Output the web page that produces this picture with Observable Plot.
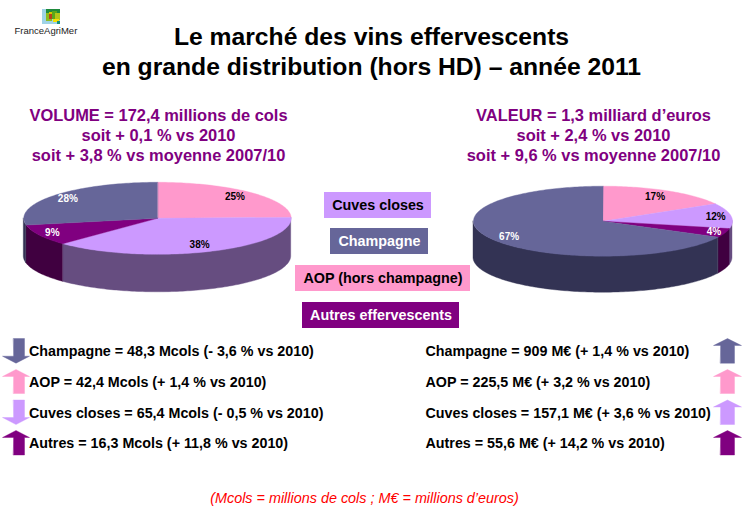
<!DOCTYPE html>
<html lang="fr"><head><meta charset="utf-8">
<script src="https://cdn.jsdelivr.net/npm/d3@7"></script>
<script src="https://cdn.jsdelivr.net/npm/@observablehq/plot@0.6"></script>
<style>html,body{margin:0;padding:0;background:#fff}svg{display:block}</style>
</head><body><div id="chart"></div>
<script>
// ---- data ----
const sliceOrder = ["AOP", "Cuves closes", "Autres", "Champagne"];
const volumeMcols = [42.4, 65.4, 16.3, 48.3];
const volumeLabels = ["25%", "38%", "9%", "28%"];
const valueMeuros = [225.5, 157.1, 55.6, 909];
const valueLabels = ["17%", "12%", "4%", "67%"];
const topColors = {"Champagne":"#666699","AOP":"#FF99CC","Cuves closes":"#CC99FF","Autres":"#800080"};
const sideColors = {"Champagne":"#333354","AOP":"#804D66","Cuves closes":"#664D80","Autres":"#400040"};
const labelColors = {"Champagne":"#fff","AOP":"#000","Cuves closes":"#000","Autres":"#fff"};
const titleLines = ["Le marché des vins effervescents","en grande distribution (hors HD) – année 2011"];
const volumeLines = ["VOLUME = 172,4 millions de cols","soit + 0,1 % vs 2010","soit + 3,8 % vs moyenne 2007/10"];
const valueLines = ["VALEUR = 1,3 milliard d’euros","soit + 2,4 % vs 2010","soit + 9,6 % vs moyenne 2007/10"];
const legendNames = ["Cuves closes","Champagne","AOP (hors champagne)","Autres effervescents"];
const legendKeys = ["Cuves closes","Champagne","AOP","Autres"];
const volumeRows = ["Champagne = 48,3 Mcols (- 3,6 % vs 2010)","AOP = 42,4 Mcols (+ 1,4 % vs 2010)","Cuves closes = 65,4 Mcols (- 0,5 % vs 2010)","Autres = 16,3 Mcols (+ 11,8 % vs 2010)"];
const valueRows = ["Champagne = 909 M€ (+ 1,4 % vs 2010)","AOP = 225,5 M€ (+ 3,2 % vs 2010)","Cuves closes = 157,1 M€ (+ 3,6 % vs 2010)","Autres = 55,6 M€ (+ 14,2 % vs 2010)"];
const rowKeys = ["Champagne","AOP","Cuves closes","Autres"];
const volumeTrend = [-1, 1, -1, 1];
const valueTrend = [1, 1, 1, 1];
const footnote = "(Mcols = millions de cols ; M€ = millions d’euros)";
const logoName = "FranceAgriMer";

// ---- layout ----
const FONT = "Liberation Sans, Arial, sans-serif";
const volumePie = {cx:157, cy:217.8, rx:133.7, ry:36, depth:38, labelR:[0.83,0.8,0.89,0.87]};
const valuePie  = {cx:602.5, cy:220.7, rx:129.5, ry:35, depth:36.5, labelR:[0.8,0.88,0.91,0.85]};

function slices(names, values, labels, pie) {
  const total = d3.sum(values); let acc = 0;
  return names.map((n, i) => {
    const a0 = acc / total * 2 * Math.PI; acc += values[i];
    const a1 = acc / total * 2 * Math.PI;
    return {name:n, label:labels[i], a0, a1, pie, f:pie.labelR[i]};
  });
}
const px = (p, t) => p.cx + p.rx * Math.sin(t);
const py = (p, t) => p.cy - p.ry * Math.cos(t);
function arc(a0, a1) {
  const n = Math.max(2, Math.ceil((a1 - a0) / 0.02));
  return d3.range(n + 1).map(i => a0 + (a1 - a0) * i / n);
}
const allSlices = [...slices(sliceOrder, volumeMcols, volumeLabels, volumePie), ...slices(sliceOrder, valueMeuros, valueLabels, valuePie)];
const topPts = [], sidePts = [], pieLabels = [];
allSlices.forEach((s, i) => {
  const p = s.pie;
  topPts.push({id:i, x:p.cx, y:p.cy, c:topColors[s.name]});
  arc(s.a0, s.a1).forEach(t => topPts.push({id:i, x:px(p,t), y:py(p,t), c:topColors[s.name]}));
  const f0 = Math.max(s.a0, Math.PI/2), f1 = Math.min(s.a1, 3*Math.PI/2);
  if (f1 > f0) arc(f0, f1).forEach(t => sidePts.push({id:i, x:px(p,t), y1:py(p,t), y2:py(p,t)+p.depth, c:sideColors[s.name]}));
  const m = (s.a0 + s.a1)/2;
  pieLabels.push({x:p.cx + s.f*p.rx*Math.sin(m), y:p.cy - s.f*p.ry*Math.cos(m), t:s.label, c:labelColors[s.name]});
});

// arrows
const rowY = [[338,362.7],[369,393],[399.5,424],[430,454.5]];
const arrowPts = [];
function arrow(id, x0, x1, s0, s1, yr, dir, color) {
  const h = 7;
  const [a, b] = yr;
  const tip = dir > 0 ? a : b, base = dir > 0 ? b : a, neck = tip + (dir > 0 ? h : -h), mid = (x0+x1)/2;
  [[s0,base],[s1,base],[s1,neck],[x1,neck],[mid,tip],[x0,neck],[s0,neck]].forEach(([x,y]) => arrowPts.push({id, x, y, c:color}));
}
rowKeys.forEach((k,i) => {
  arrow("l"+i, 2, 29, 13, 24, rowY[i], volumeTrend[i], topColors[k]);
  arrow("r"+i, 713, 741, 720, 734, rowY[i], valueTrend[i], topColors[k]);
});

// legend
const legendBoxes = [[324,431,192,218],[330,428,228,254],[295,470,265,291],[302,459,302,328]]
  .map(([x1,x2,y1,y2],i) => ({x1,x2,y1,y2,name:legendNames[i],c:topColors[legendKeys[i]],tc:labelColors[legendKeys[i]]}));

// logo tiles
const logoTiles = [
  [42,60,9,24,"#9fd3e6"],[46,60,9,13,"#1f8a3c"],[46,52,13,21,"#8dbb1f"],[49,53,12,19,"#d8c400"],
  [52,57,11,19,"#5aa81a"],[55,60,13,20,"#b3c71a"],[49,52,14,19,"#b8401c"],[53,59,19,22,"#f5e000"],[57,60,21,24,"#18907c"]
].map(([x1,x2,y1,y2,c]) => ({x1,x2,y1,y2,c}));

const txt = (rows, o) => Plot.text(rows, {x:"x", y:"y", text:"t", fontFamily:FONT, lineAnchor:"middle", ...o});
const stack = (lines, x, y0, dy) => lines.map((t,i) => ({t, x, y:y0+i*dy}));

const chart = Plot.plot({
  width:743, height:506, margin:0,
  x:{domain:[0,743], range:[0,743], axis:null},
  y:{domain:[0,506], range:[0,506], axis:null},
  color:{type:"identity"},
  style:{background:"#fff", fontFamily:FONT},
  marks:[
    Plot.rect(logoTiles, {x1:"x1", x2:"x2", y1:"y1", y2:"y2", fill:"c"}),
    txt([{t:logoName, x:14, y:30}], {textAnchor:"start", fontSize:9.5, fill:"#222"}),
    txt(stack(titleLines, 371, 37, 30), {fontSize:24.7, fontWeight:"bold", fill:"#000"}),
    txt(stack(volumeLines, 158, 115.5, 20), {fontSize:16.45, fontWeight:"bold", fill:"#800080"}),
    txt(stack(valueLines, 593, 115.5, 20), {fontSize:16.45, fontWeight:"bold", fill:"#800080"}),
    Plot.areaY(sidePts, {x:"x", y1:"y1", y2:"y2", z:"id", fill:"c", stroke:"c", strokeWidth:0.4}),
    Plot.line(topPts, {x:"x", y:"y", z:"id", fill:"c", stroke:"c", strokeWidth:0.4, curve:"linear-closed"}),
    Plot.text(pieLabels, {x:"x", y:"y", text:"t", fill:"c", fontSize:10, fontWeight:"bold", fontFamily:FONT}),
    Plot.rect(legendBoxes, {x1:"x1", x2:"x2", y1:"y1", y2:"y2", fill:"c"}),
    Plot.text(legendBoxes, {x:d=>(d.x1+d.x2)/2, y:d=>(d.y1+d.y2)/2, text:"name", fill:"tc", fontSize:14.35, fontWeight:"bold", fontFamily:FONT}),
    Plot.line(arrowPts, {x:"x", y:"y", z:"id", fill:"c", stroke:"c", strokeWidth:0.4, curve:"linear-closed"}),
    txt(volumeRows.map((t,i)=>({t, x:28.5, y:d3.mean(rowY[i])+1})), {textAnchor:"start", fontSize:14.3, fontWeight:"bold", fill:"#000"}),
    txt(valueRows.map((t,i)=>({t, x:425, y:d3.mean(rowY[i])+1})), {textAnchor:"start", fontSize:14.3, fontWeight:"bold", fill:"#000"}),
    txt([{t:footnote, x:364, y:498}], {fontSize:14.4, fontStyle:"italic", fill:"#FF0000"})
  ]
});
document.getElementById("chart").appendChild(chart);
</script></body></html>
